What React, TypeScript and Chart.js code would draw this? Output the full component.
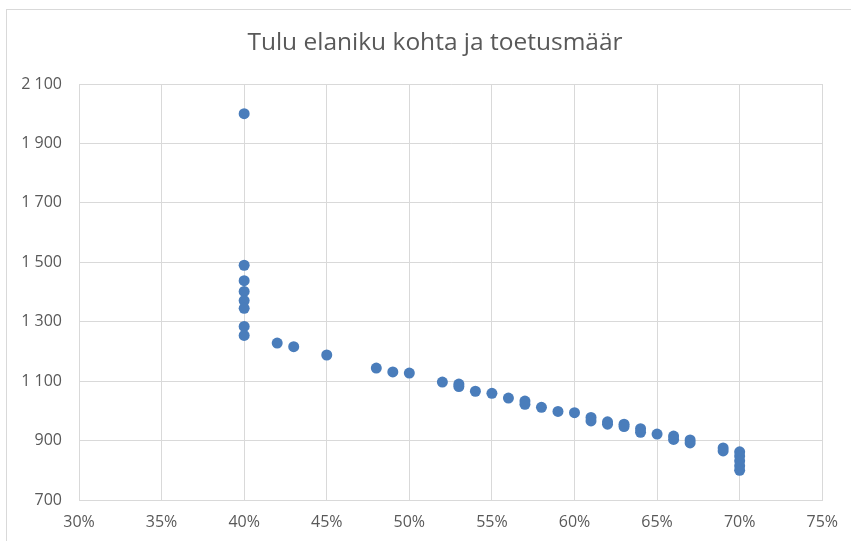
import React, { useEffect, useRef } from "react";
import { Chart, registerables } from "chart.js";

Chart.register(...registerables);

const titleText = "Tulu elaniku kohta ja toetusmäär";
const xValues = [
  40, 40, 40, 40, 40, 40, 40, 40,
  42, 43, 45, 48, 49, 50, 52, 53, 53, 54, 55, 56, 57, 57, 58, 59, 60,
  61, 61, 62, 62, 63, 63, 64, 64, 65, 66, 66, 67, 67, 69, 69,
  70, 70, 70, 70, 70,
];
const yValues = [
  2000, 1490, 1438, 1402, 1371, 1345, 1284, 1254,
  1228, 1216, 1188, 1144, 1131, 1127, 1097, 1090, 1082, 1066, 1059, 1043, 1033, 1022, 1012, 998, 994,
  978, 966, 963, 955, 955, 947, 940, 928, 922, 915, 904, 902, 892, 875, 865,
  862, 848, 832, 815, 800,
];
const xMin = 30, xMax = 75, xStep = 5;
const yMin = 700, yMax = 2100, yStep = 200;

const textColor = "#595959";
const gridColor = "#d9d9d9";
const pointColor = "#4a7dbb";
const fontFamily = "'Open Sans', 'Noto Sans', sans-serif";

const fmtThousands = (v: number) =>
  String(v).replace(/\B(?=(\d{3})+(?!\d))/g, " ");

const framePlugin = {
  id: "frameAndTitle",
  beforeDraw(chart: any) {
    const ctx = chart.ctx;
    ctx.save();
    ctx.fillStyle = "#ffffff";
    ctx.fillRect(0, 0, chart.width, chart.height);
    ctx.strokeStyle = gridColor;
    ctx.lineWidth = 1;
    ctx.strokeRect(6.5, 9.5, chart.width + 20, chart.height + 20);
    ctx.fillStyle = textColor;
    ctx.font = `24.5px ${fontFamily}`;
    ctx.textAlign = "center";
    ctx.textBaseline = "middle";
    ctx.fillText(titleText, 435, 43);
    ctx.restore();
  },
};

export default function App() {
  const ref = useRef<HTMLCanvasElement | null>(null);
  useEffect(() => {
    if (!ref.current) return;
    const data = xValues.map((x, i) => ({ x, y: yValues[i] }));
    const chart = new Chart(ref.current, {
      type: "scatter",
      data: {
        datasets: [
          {
            data,
            backgroundColor: pointColor,
            borderColor: pointColor,
            borderWidth: 0,
            pointRadius: 5.5,
          },
        ],
      },
      options: {
        animation: false,
        responsive: false,
        devicePixelRatio: 1,
        layout: { padding: { top: 84, right: 28, left: 0, bottom: 0 } },
        plugins: { legend: { display: false }, tooltip: { enabled: false } },
        scales: {
          x: {
            type: "linear",
            min: xMin,
            max: xMax,
            ticks: {
              stepSize: xStep,
              color: textColor,
              font: { family: fontFamily, size: 16 },
              padding: 13,
              callback: (v: any) => `${v}%`,
            },
            grid: { color: gridColor, drawTicks: false },
            border: { color: gridColor },
            afterFit: (s: any) => { s.height = 41; },
          },
          y: {
            type: "linear",
            min: yMin,
            max: yMax,
            ticks: {
              stepSize: yStep,
              color: textColor,
              font: { family: fontFamily, size: 16 },
              padding: 17,
              callback: (v: any) => fmtThousands(Number(v)),
            },
            grid: { color: gridColor, drawTicks: false },
            border: { color: gridColor },
            afterFit: (s: any) => { s.width = 79; },
          },
        },
      },
      plugins: [framePlugin],
    });
    return () => chart.destroy();
  }, []);
  return (
    <div style={{ position: "fixed", left: 0, top: 0, width: 851, height: 541 }}>
      <canvas ref={ref} width={851} height={541} style={{ display: "block" }} />
    </div>
  );
}
